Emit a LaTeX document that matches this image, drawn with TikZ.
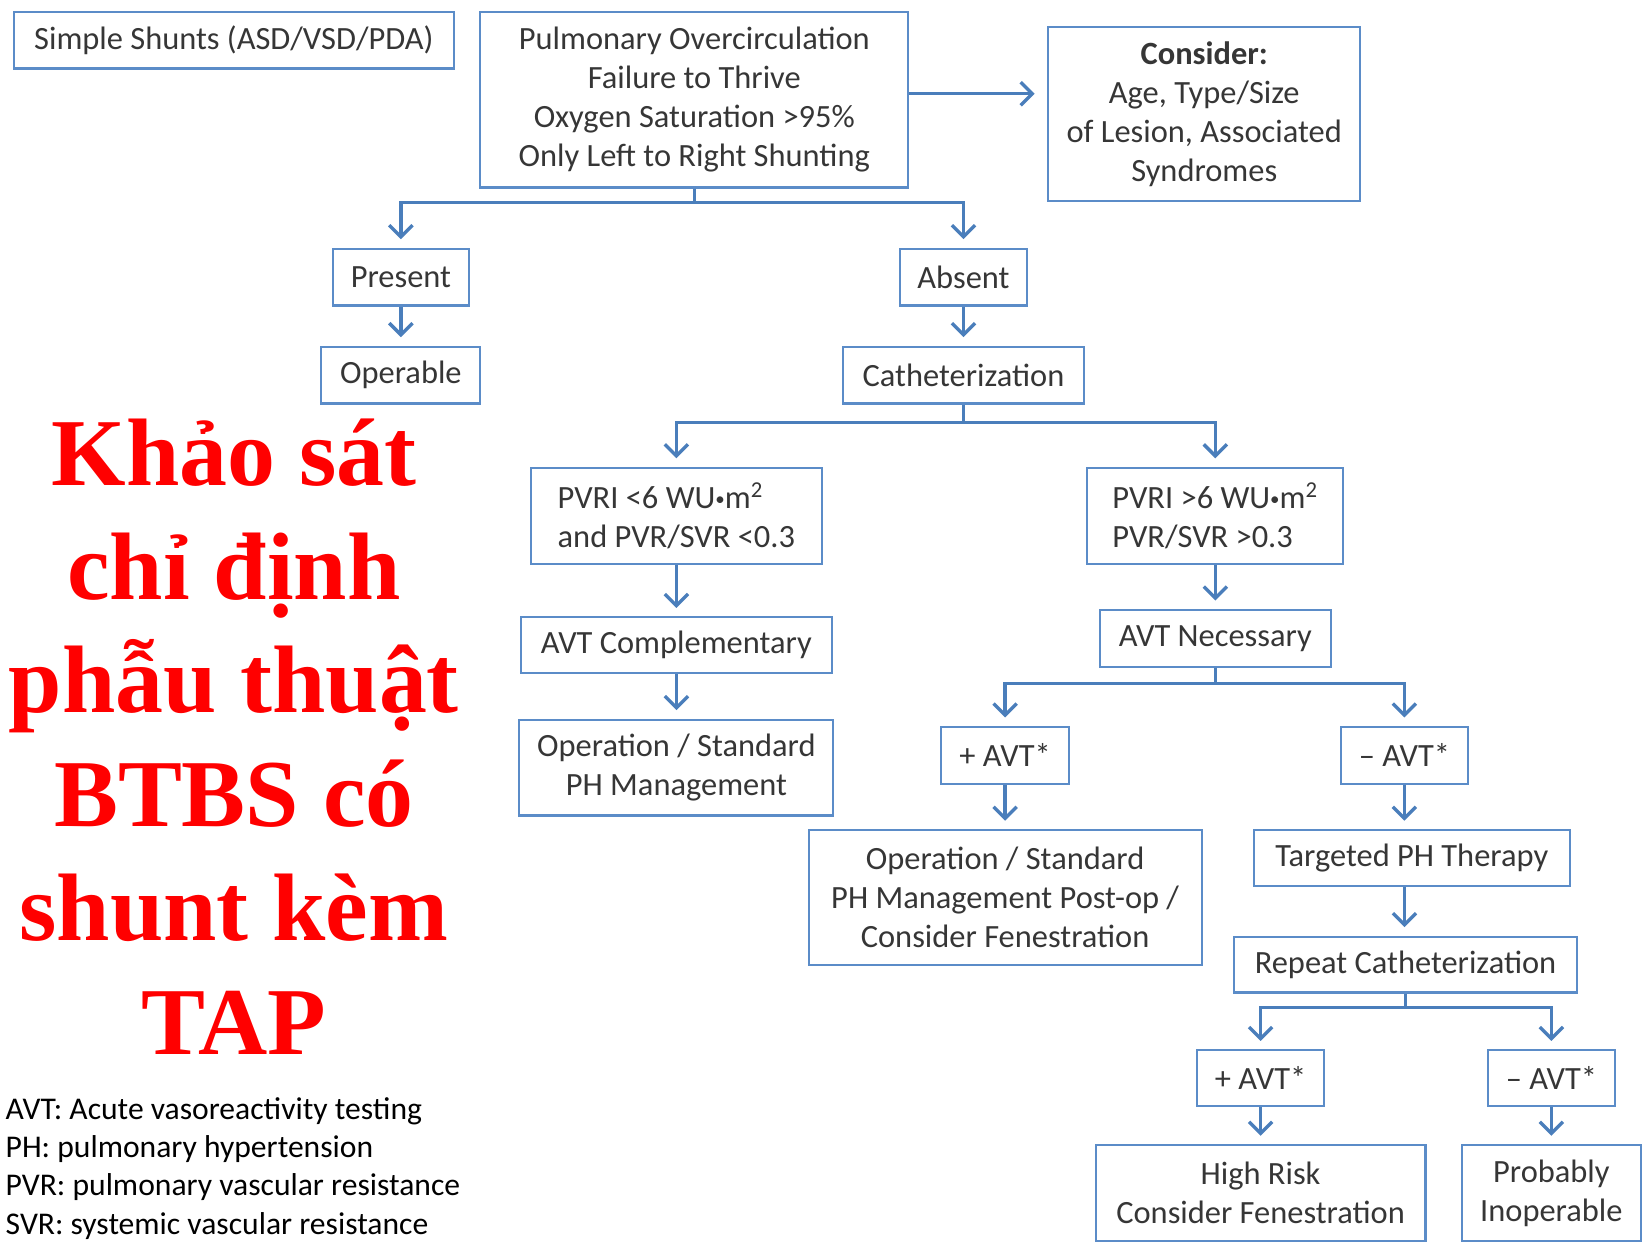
\documentclass[tikz,border=0pt]{standalone}
\usepackage{fontspec}
\setmainfont{Carlito}
\newfontfamily\headfont{Liberation Serif}
\usepackage{tikz}
\usetikzlibrary{arrows.meta,positioning}
\definecolor{ShuntBlue}{HTML}{4A7EBB}
\definecolor{ShuntEdge}{HTML}{5B8CC8}
\definecolor{ShuntText}{HTML}{363636}
\definecolor{ShuntRed}{HTML}{FF0000}
\newcommand{\dotsep}{\raisebox{1.6pt}{\fontsize{9}{9}\selectfont •}}
\tikzset{
  box/.style={draw=ShuntEdge, line width=1pt, align=center, text=ShuntText,
              minimum height=27pt, inner sep=2pt,
              font=\fontsize{15.4}{18.5}\selectfont},
  flow/.style={-{Straight Barb[length=5.5pt, width=11pt]}, line width=1.6pt,
               draw=ShuntBlue, shorten >=4pt},
  headline/.style={align=center, text=ShuntRed, inner sep=0pt,
                   font=\headfont\bfseries\fontsize{45.5}{54}\selectfont},
  notes/.style={align=left, anchor=north west, inner sep=0pt,
                font=\fontsize{15}{18.25}\selectfont}
}

\begin{document}
\begin{tikzpicture}[x=0.5pt, y=-0.5pt]
  \useasboundingbox (0,0) rectangle (1568,1184);
  \node[box, minimum width=209pt] (simple) at (222,38) {Simple Shunts (ASD/VSD/PDA)};
  \node[box, minimum width=203pt, minimum height=83.5pt] (pulm) at (659,94.5)
    {Pulmonary Overcirculation\\Failure to Thrive\\Oxygen Saturation >95\%\\Only Left to Right Shunting};
  \node[box, minimum width=148pt, minimum height=82.5pt] (consider) at (1143,108.5)
    {\textbf{Consider:}\\Age, Type/Size\\of Lesion, Associated\\Syndromes};
  \node[box, minimum width=64.5pt] (present) at (380.5,263) {Present};
  \node[box, minimum width=60.5pt] (absent) at (914.5,263) {Absent};
  \node[box, minimum width=75.5pt, below=18.5pt of present] (operable) {Operable};
  \node[box, minimum width=114pt, below=18.5pt of absent] (cath) {Catheterization};
  \node[box, minimum width=138pt, minimum height=45.5pt, align=left] (pvrlow) at (642,489.5)
    {PVRI <6 WU\dotsep m\textsuperscript{2}\\ and PVR/SVR <0.3};
  \node[box, minimum width=121.5pt, minimum height=45.5pt, align=left] (pvrhigh) at (1153.5,489.5)
    {PVRI >6 WU\dotsep m\textsuperscript{2}\\PVR/SVR >0.3};
  \node[box, minimum width=147.5pt, minimum height=26.5pt, below=24.5pt of pvrlow] (avtcomp) {AVT Complementary};
  \node[box, minimum width=149pt, minimum height=45.5pt, below=21pt of avtcomp] (operstd)
    {Operation / Standard\\PH Management};
  \node[box, minimum width=109.5pt, below=21pt of pvrhigh] (avtnec) {AVT Necessary};
  \node[box, minimum width=61pt] (pavtA) at (954,717) {+ AVT*};
  \node[box, minimum width=60pt] (navtA) at (1333,717) {– AVT*};
  \node[box, minimum width=186.5pt, minimum height=64pt, below=21pt of pavtA] (operpost)
    {Operation / Standard\\PH Management Post-op /\\Consider Fenestration};
  \node[box, minimum width=150pt, minimum height=26.5pt, below=21pt of navtA, xshift=3.5pt] (target) {Targeted PH Therapy};
  \node[box, minimum width=162.5pt, minimum height=26.5pt, below=23pt of target, xshift=-3pt] (recath) {Repeat Catheterization};
  \node[box, minimum width=60.5pt, minimum height=26.5pt] (pavtB) at (1196.5,1023.5) {+ AVT*};
  \node[box, minimum width=60.5pt, minimum height=26.5pt] (navtB) at (1472.5,1023.5) {– AVT*};
  \node[box, minimum width=156.5pt, minimum height=45.5pt, below=17.5pt of pavtB] (highrisk)
    {High Risk\\Consider Fenestration};
  \node[box, minimum width=85pt, minimum height=45.5pt, below=17.5pt of navtB] (inoper)
    {Probably\\Inoperable};
  \node[headline] (heading) at (222,699)
    {Khảo sát\\chỉ định\\phẫu thuật\\BTBS có\\shunt kèm\\TAP};
  \node[notes] (abbrev) at (5,1041)
    {AVT: Acute vasoreactivity testing\\PH: pulmonary hypertension\\PVR: pulmonary vascular resistance\\SVR: systemic vascular resistance};
  \draw[flow, shorten >=6pt] ([yshift=2.75pt]pulm.east) -- ([yshift=2.75pt]pulm.east -| consider.west);
  \draw[flow] (pulm.south) -- ++(0,13) -| (present.north);
  \draw[flow] (pulm.south) -- ++(0,13) -| (absent.north);
  \draw[flow] (present) -- (operable);
  \draw[flow] (absent) -- (cath);
  \draw[flow] (cath.south) -- ++(0,17) -| (pvrlow.north);
  \draw[flow] (cath.south) -- ++(0,17) -| (pvrhigh.north);
  \draw[flow] (pvrlow) -- (avtcomp);
  \draw[flow] (avtcomp) -- (operstd);
  \draw[flow] (pvrhigh) -- (avtnec);
  \draw[flow] (avtnec.south) -- ++(0,15) -| (pavtA.north);
  \draw[flow] (avtnec.south) -- ++(0,15) -| (navtA.north);
  \draw[flow] (pavtA) -- (operpost);
  \draw[flow] (navtA) -- (navtA |- target.north);
  \draw[flow] (target.south -| navtA) -- (recath.north -| navtA);
  \draw[flow] (recath.south) -- ++(0,13) -| (pavtB.north);
  \draw[flow] (recath.south) -- ++(0,13) -| (navtB.north);
  \draw[flow] (pavtB) -- (highrisk);
  \draw[flow] (navtB) -- (inoper);
\end{tikzpicture}
\end{document}
